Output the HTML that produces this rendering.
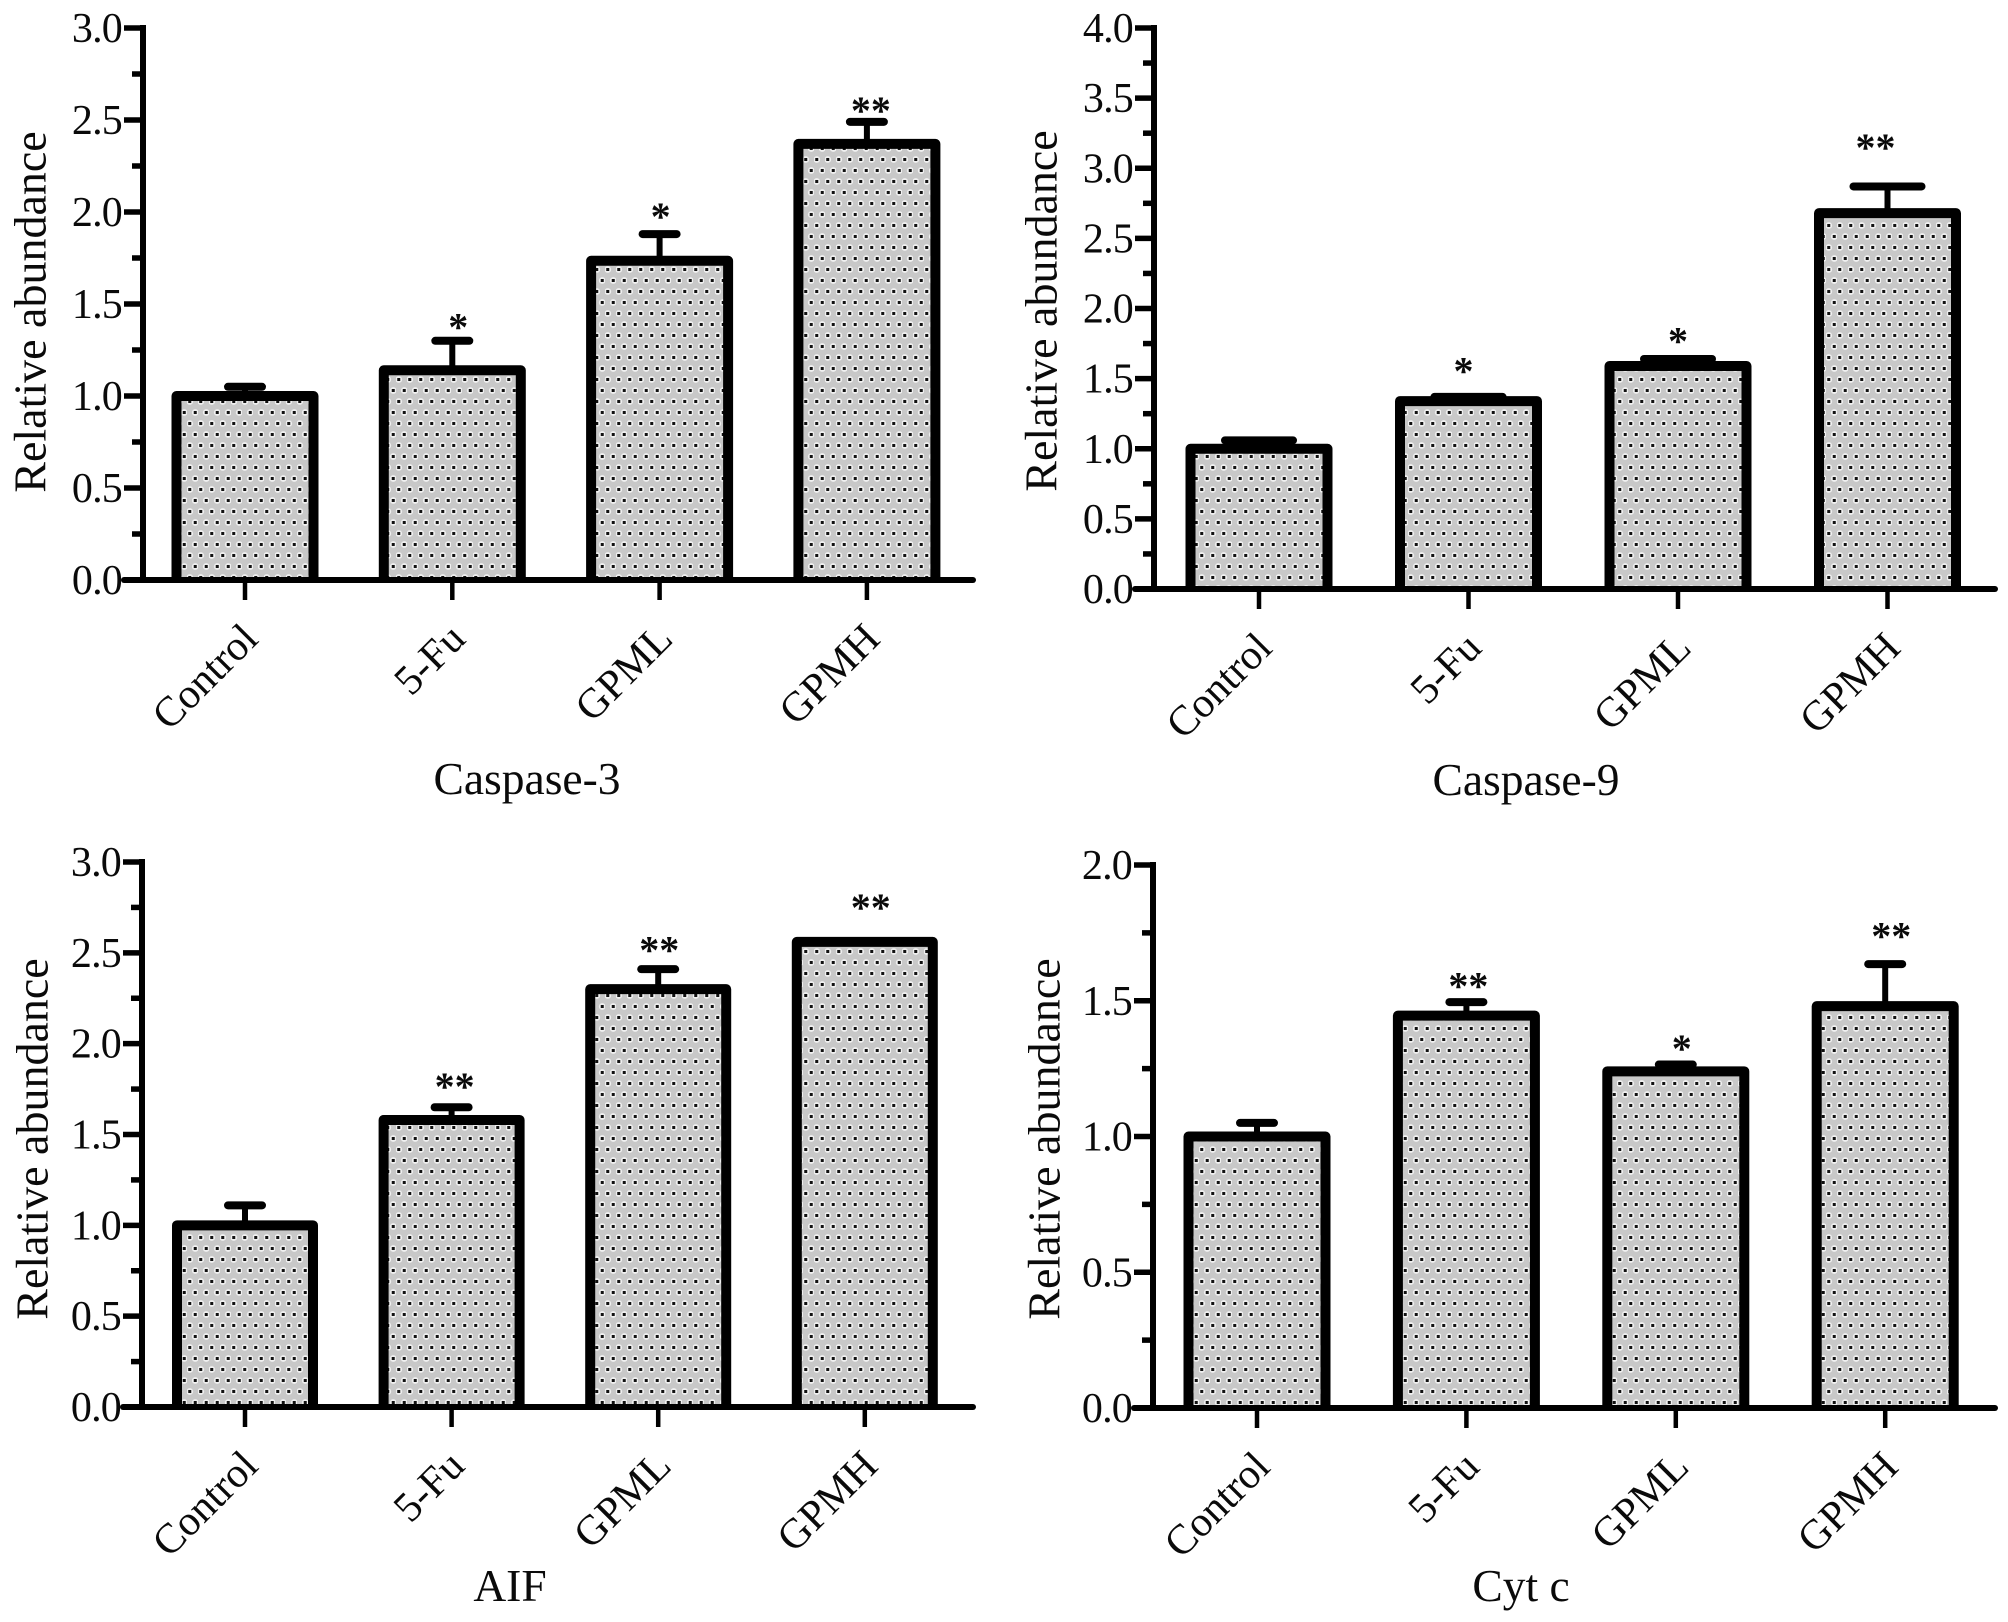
<!DOCTYPE html>
<html lang="en">
<head>
<meta charset="utf-8">
<title>Relative abundance of apoptosis proteins</title>
<style>
  html, body { margin: 0; padding: 0; background: #fff; }
  svg { display: block; }
  text { font-family: "Liberation Serif", serif; fill: #0a0a0a; }
  .tick-label { font-size: 42px; letter-spacing: -0.8px; text-anchor: end; }
  .y-title { font-size: 46px; text-anchor: middle; }
  .panel-title { font-size: 45.5px; text-anchor: middle; }
  .cat-label { font-size: 42px; text-anchor: end; }
  .star { font-size: 40px; font-weight: bold; text-anchor: middle; }
</style>
</head>
<body>
<svg xmlns="http://www.w3.org/2000/svg" width="2008" height="1622" viewBox="0 0 2008 1622">
  <defs>
    <pattern id="dots" patternUnits="userSpaceOnUse" width="11" height="22">
      <rect width="11" height="22" fill="#c8c8c8"/>
      <circle cx="2.75" cy="5.5" r="3.4" fill="#f0f0f0"/>
      <rect x="1.25" y="4" width="3" height="3" fill="#111"/>
      <circle cx="8.25" cy="16.5" r="3.4" fill="#f0f0f0"/>
      <rect x="6.75" y="15" width="3" height="3" fill="#111"/>
    </pattern>
  </defs>
  <rect width="2008" height="1622" fill="#fff"/>

  <g id="panel-caspase3">
    <text class="y-title" transform="translate(45.5 312) rotate(-90)">Relative abundance</text>
    <text class="panel-title" x="527" y="794">Caspase-3</text>
  </g>
  <g id="panel-caspase9">
    <text class="y-title" transform="translate(1056.5 311) rotate(-90)">Relative abundance</text>
    <text class="panel-title" x="1526" y="795">Caspase-9</text>
  </g>
  <g id="panel-aif">
    <text class="y-title" transform="translate(47.5 1139) rotate(-90)">Relative abundance</text>
    <text class="panel-title" x="510" y="1601">AIF</text>
  </g>
  <g id="panel-cytc">
    <text class="y-title" transform="translate(1059.5 1139) rotate(-90)">Relative abundance</text>
    <text class="panel-title" x="1521" y="1601">Cyt c</text>
  </g>
</svg>

<script>
// ---- data ----
const categories = ["Control", "5-Fu", "GPML", "GPMH"];

const caspase3TickLabels = ["0.0", "0.5", "1.0", "1.5", "2.0", "2.5", "3.0"];
const caspase3Values = [1.0, 1.14, 1.735, 2.37];
const caspase3Errors = [0.05, 0.16, 0.145, 0.12];
const caspase3Stars = ["", "*", "*", "**"];
const caspase3StarLevels = [0, 1.40, 2.0, 2.575];

const caspase9TickLabels = ["0.0", "0.5", "1.0", "1.5", "2.0", "2.5", "3.0", "3.5", "4.0"];
const caspase9Values = [1.0, 1.34, 1.59, 2.68];
const caspase9Errors = [0.06, 0.03, 0.05, 0.19];
const caspase9Stars = ["", "*", "*", "**"];
const caspase9StarLevels = [0, 1.586, 1.80, 3.18];

const aifTickLabels = ["0.0", "0.5", "1.0", "1.5", "2.0", "2.5", "3.0"];
const aifValues = [1.0, 1.58, 2.3, 2.56];
const aifErrors = [0.11, 0.07, 0.11, 0];
const aifStars = ["", "**", "**", "**"];
const aifStarLevels = [0, 1.79, 2.54, 2.775];

const cytcTickLabels = ["0.0", "0.5", "1.0", "1.5", "2.0"];
const cytcValues = [1.0, 1.445, 1.24, 1.48];
const cytcErrors = [0.05, 0.05, 0.025, 0.155];
const cytcStars = ["", "**", "*", "**"];
const cytcStarLevels = [0, 1.57, 1.34, 1.755];

// ---- panel layout ----
const panels = [
  { key: "caspase-3", id: "panel-caspase3", ticks: caspase3TickLabels, values: caspase3Values, errors: caspase3Errors, stars: caspase3Stars, starLevels: caspase3StarLevels,
    axisX: 143, top: 28, base: 580, firstX: 245, step: 207.3, xEnd: 973, barW: 137, capW: 42, starDx: [0, 6, 1, 4] },
  { key: "caspase-9", id: "panel-caspase9", ticks: caspase9TickLabels, values: caspase9Values, errors: caspase9Errors, stars: caspase9Stars, starLevels: caspase9StarLevels,
    axisX: 1154, top: 28, base: 589, firstX: 1259, step: 209.5, xEnd: 1995, barW: 137, capW: 76, starDx: [0, -5, 0, -12] },
  { key: "aif", id: "panel-aif", ticks: aifTickLabels, values: aifValues, errors: aifErrors, stars: aifStars, starLevels: aifStarLevels,
    axisX: 142, top: 862, base: 1407, firstX: 245, step: 206.6, xEnd: 973, barW: 136, capW: 42, starDx: [0, 3, 1, 6] },
  { key: "cyt-c", id: "panel-cytc", ticks: cytcTickLabels, values: cytcValues, errors: cytcErrors, stars: cytcStars, starLevels: cytcStarLevels,
    axisX: 1153, top: 865, base: 1408, firstX: 1257, step: 209.4, xEnd: 1995, barW: 137, capW: 42, starDx: [0, 2, 6, 6] }
];

const SVG_NS = "http://www.w3.org/2000/svg";

function make(tag, attrs, parent) {
  const el = document.createElementNS(SVG_NS, tag);
  for (const k in attrs) el.setAttribute(k, attrs[k]);
  parent.appendChild(el);
  return el;
}

function drawPanel(p) {
  const g = document.getElementById(p.id);
  const yMax = parseFloat(p.ticks[p.ticks.length - 1]);
  const yScale = function (v) { return p.base - (v / yMax) * (p.base - p.top); };
  const xScale = function (i) { return p.firstX + i * p.step; };
  const majorStep = parseFloat(p.ticks[1]) - parseFloat(p.ticks[0]);

  // bars
  categories.forEach(function (cat, i) {
    const cx = xScale(i);
    const yTop = yScale(p.values[i]);

    if (p.errors[i] > 0) {
      const yErr = yScale(p.values[i] + p.errors[i]);
      const stem = make("line", { x1: cx, x2: cx, y1: yErr, y2: yTop, stroke: "#000", "stroke-width": 6 }, g);
      
      
      const cap = make("line", { x1: cx - p.capW / 2 + 4, x2: cx + p.capW / 2 - 4, y1: yErr, y2: yErr, stroke: "#000", "stroke-width": 8, "stroke-linecap": "round" }, g);
      
      
    }

    const xL = cx - p.barW / 2;
    const xR = cx + p.barW / 2;
    const bar = make("path", { d: "M" + xL + " " + p.base + "L" + xL + " " + yTop + "L" + xR + " " + yTop + "L" + xR + " " + p.base, fill: "url(#dots)", stroke: "#000", "stroke-width": 10, "stroke-linejoin": "round" }, g);
    
    

    const xt = make("line", { x1: cx, x2: cx, y1: p.base, y2: p.base + 20, stroke: "#000", "stroke-width": 4.5 }, g);
    
    

    const lab = make("text", { class: "cat-label", transform: "translate(" + (cx + 15) + " " + (p.base + 61) + ") rotate(-45)" }, g);
    lab.textContent = cat;
    
    

    if (p.stars[i]) {
      const star = make("text", { class: "star", x: cx + p.starDx[i], y: yScale(p.starLevels[i]) + 18 }, g);
      star.textContent = p.stars[i];
      
      
    }
  });

  // y axis line and ticks
  const yAxis = make("line", { x1: p.axisX, x2: p.axisX, y1: p.top - 3, y2: p.base, stroke: "#000", "stroke-width": 6 }, g);
  
  

  const xAxis = make("line", { x1: p.axisX - 19, x2: p.xEnd, y1: p.base, y2: p.base, stroke: "#000", "stroke-width": 6, "stroke-linecap": "round" }, g);
  
  

  p.ticks.forEach(function (t) {
    const v = parseFloat(t);
    const y = yScale(v);
    if (v > 0) {
      const tick = make("line", { x1: p.axisX - 19, x2: p.axisX, y1: y, y2: y, stroke: "#000", "stroke-width": 5.5 }, g);
      
      
      const my = yScale(v - majorStep / 2);
      const minor = make("line", { x1: p.axisX - 11, x2: p.axisX, y1: my, y2: my, stroke: "#000", "stroke-width": 5.5 }, g);
      
      
    }
    const label = make("text", { class: "tick-label", x: p.axisX - 21, y: y + 14 }, g);
    label.textContent = t;
    
    
  });
}

panels.forEach(drawPanel);
</script>
</body>
</html>
